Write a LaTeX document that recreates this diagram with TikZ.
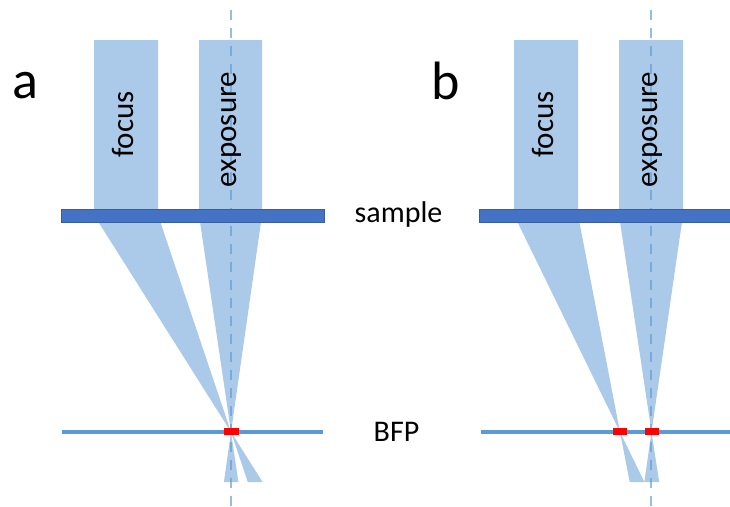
\documentclass[tikz,border=0pt]{standalone}
\usepackage{fontspec}
\setmainfont{Carlito}
\definecolor{beam}{RGB}{171,202,233}
\definecolor{axis}{RGB}{91,155,213}
\definecolor{samplefill}{RGB}{68,114,196}
\definecolor{sampleedge}{RGB}{55,95,160}
\definecolor{bfp}{RGB}{91,155,213}
\tikzset{
  beamfill/.style={fill=beam, draw=none},
  axisline/.style={draw=axis, draw opacity=0.65, line width=2pt, dash pattern=on 10pt off 8pt},
  samplebar/.style={fill=samplefill, draw=sampleedge, line width=0.8pt},
  bfpline/.style={draw=bfp, line width=4.5pt},
  spot/.style={fill=red, draw=none},
  beamlabel/.style={font=\fontsize{31}{31}\selectfont, rotate=90, anchor=base, inner sep=0pt},
  sidelabel/.style={font=\fontsize{30}{30}\selectfont, anchor=base, inner sep=0pt},
  panellabel/.style={font=\fontsize{54}{54}\selectfont, anchor=base, inner sep=0pt}
}
\begin{document}
\begin{tikzpicture}[x=1pt,y=-1pt]
\useasboundingbox (0,0) rectangle (730,506);
% ---------- panel a ----------
\coordinate (Fa) at (231,432);
\coordinate (Ea) at (231,432);
% focus beam a
\fill[beamfill] (94,40) -- (158,40) -- (158,215) -- (Fa) -- (94,215) -- cycle;
\fill[beamfill] (Fa) -- (262.6,482) -- (247.8,482) -- cycle;
% exposure beam a
\fill[beamfill] (199,40) -- (262,40) -- (262,215) -- (Ea) -- (199,215) -- cycle;
\fill[beamfill] (Ea) -- (238.4,482) -- (223.9,482) -- cycle;
\coordinate (Ata) at (230.5,10);
\coordinate (Aba) at (230.5,506);
\draw[axisline] (Ata) -- (Aba);
\node[beamlabel] (focA) at (133,124.5) {focus};
\node[beamlabel] (expA) at (236.5,129.5) {exposure};
\node[samplebar, minimum width=263pt, minimum height=12.5pt, inner sep=0pt] (sampleA) at (192.5,215.8) {};
\coordinate (Bla) at (62,432);
\coordinate (Bra) at (323,432);
\draw[bfpline] (Bla) -- (Bra);
\node[spot, minimum width=15pt, minimum height=7pt, inner sep=0pt] (spotA) at (231.5,431.5) {};
\node[panellabel] (labA) at (25,98.5) {a};
% ---------- panel b ----------
\coordinate (Fb) at (620,432);
\coordinate (Eb) at (651.5,432);
% focus beam b
\fill[beamfill] (514,40) -- (578,40) -- (578,215) -- (Fb) -- (514,215) -- cycle;
\fill[beamfill] (Fb) -- (644.4,482) -- (629.7,482) -- cycle;
% exposure beam b
\fill[beamfill] (619,40) -- (683,40) -- (683,215) -- (Eb) -- (619,215) -- cycle;
\fill[beamfill] (Eb) -- (659.2,482) -- (644.3,482) -- cycle;
\coordinate (Atb) at (651,10);
\coordinate (Abb) at (651,506);
\draw[axisline] (Atb) -- (Abb);
\node[beamlabel] (focB) at (553,124.5) {focus};
\node[beamlabel] (expB) at (657,129.5) {exposure};
\node[samplebar, minimum width=263pt, minimum height=12.5pt, inner sep=0pt] (sampleB) at (611,215.8) {};
\coordinate (Blb) at (480.5,432);
\coordinate (Brb) at (742,432);
\draw[bfpline] (Blb) -- (Brb);
\node[spot, minimum width=14pt, minimum height=7pt, inner sep=0pt] (spotB1) at (620,431.5) {};
\node[spot, minimum width=14pt, minimum height=7pt, inner sep=0pt] (spotB2) at (652,431.5) {};
\node[panellabel] (labB) at (446,99) {b};
% ---------- side labels ----------
\node[sidelabel] (sampleLab) at (398.5,222) {sample};
\node[sidelabel] (bfpLab) at (396.5,441) {BFP};
\end{tikzpicture}
\end{document}
